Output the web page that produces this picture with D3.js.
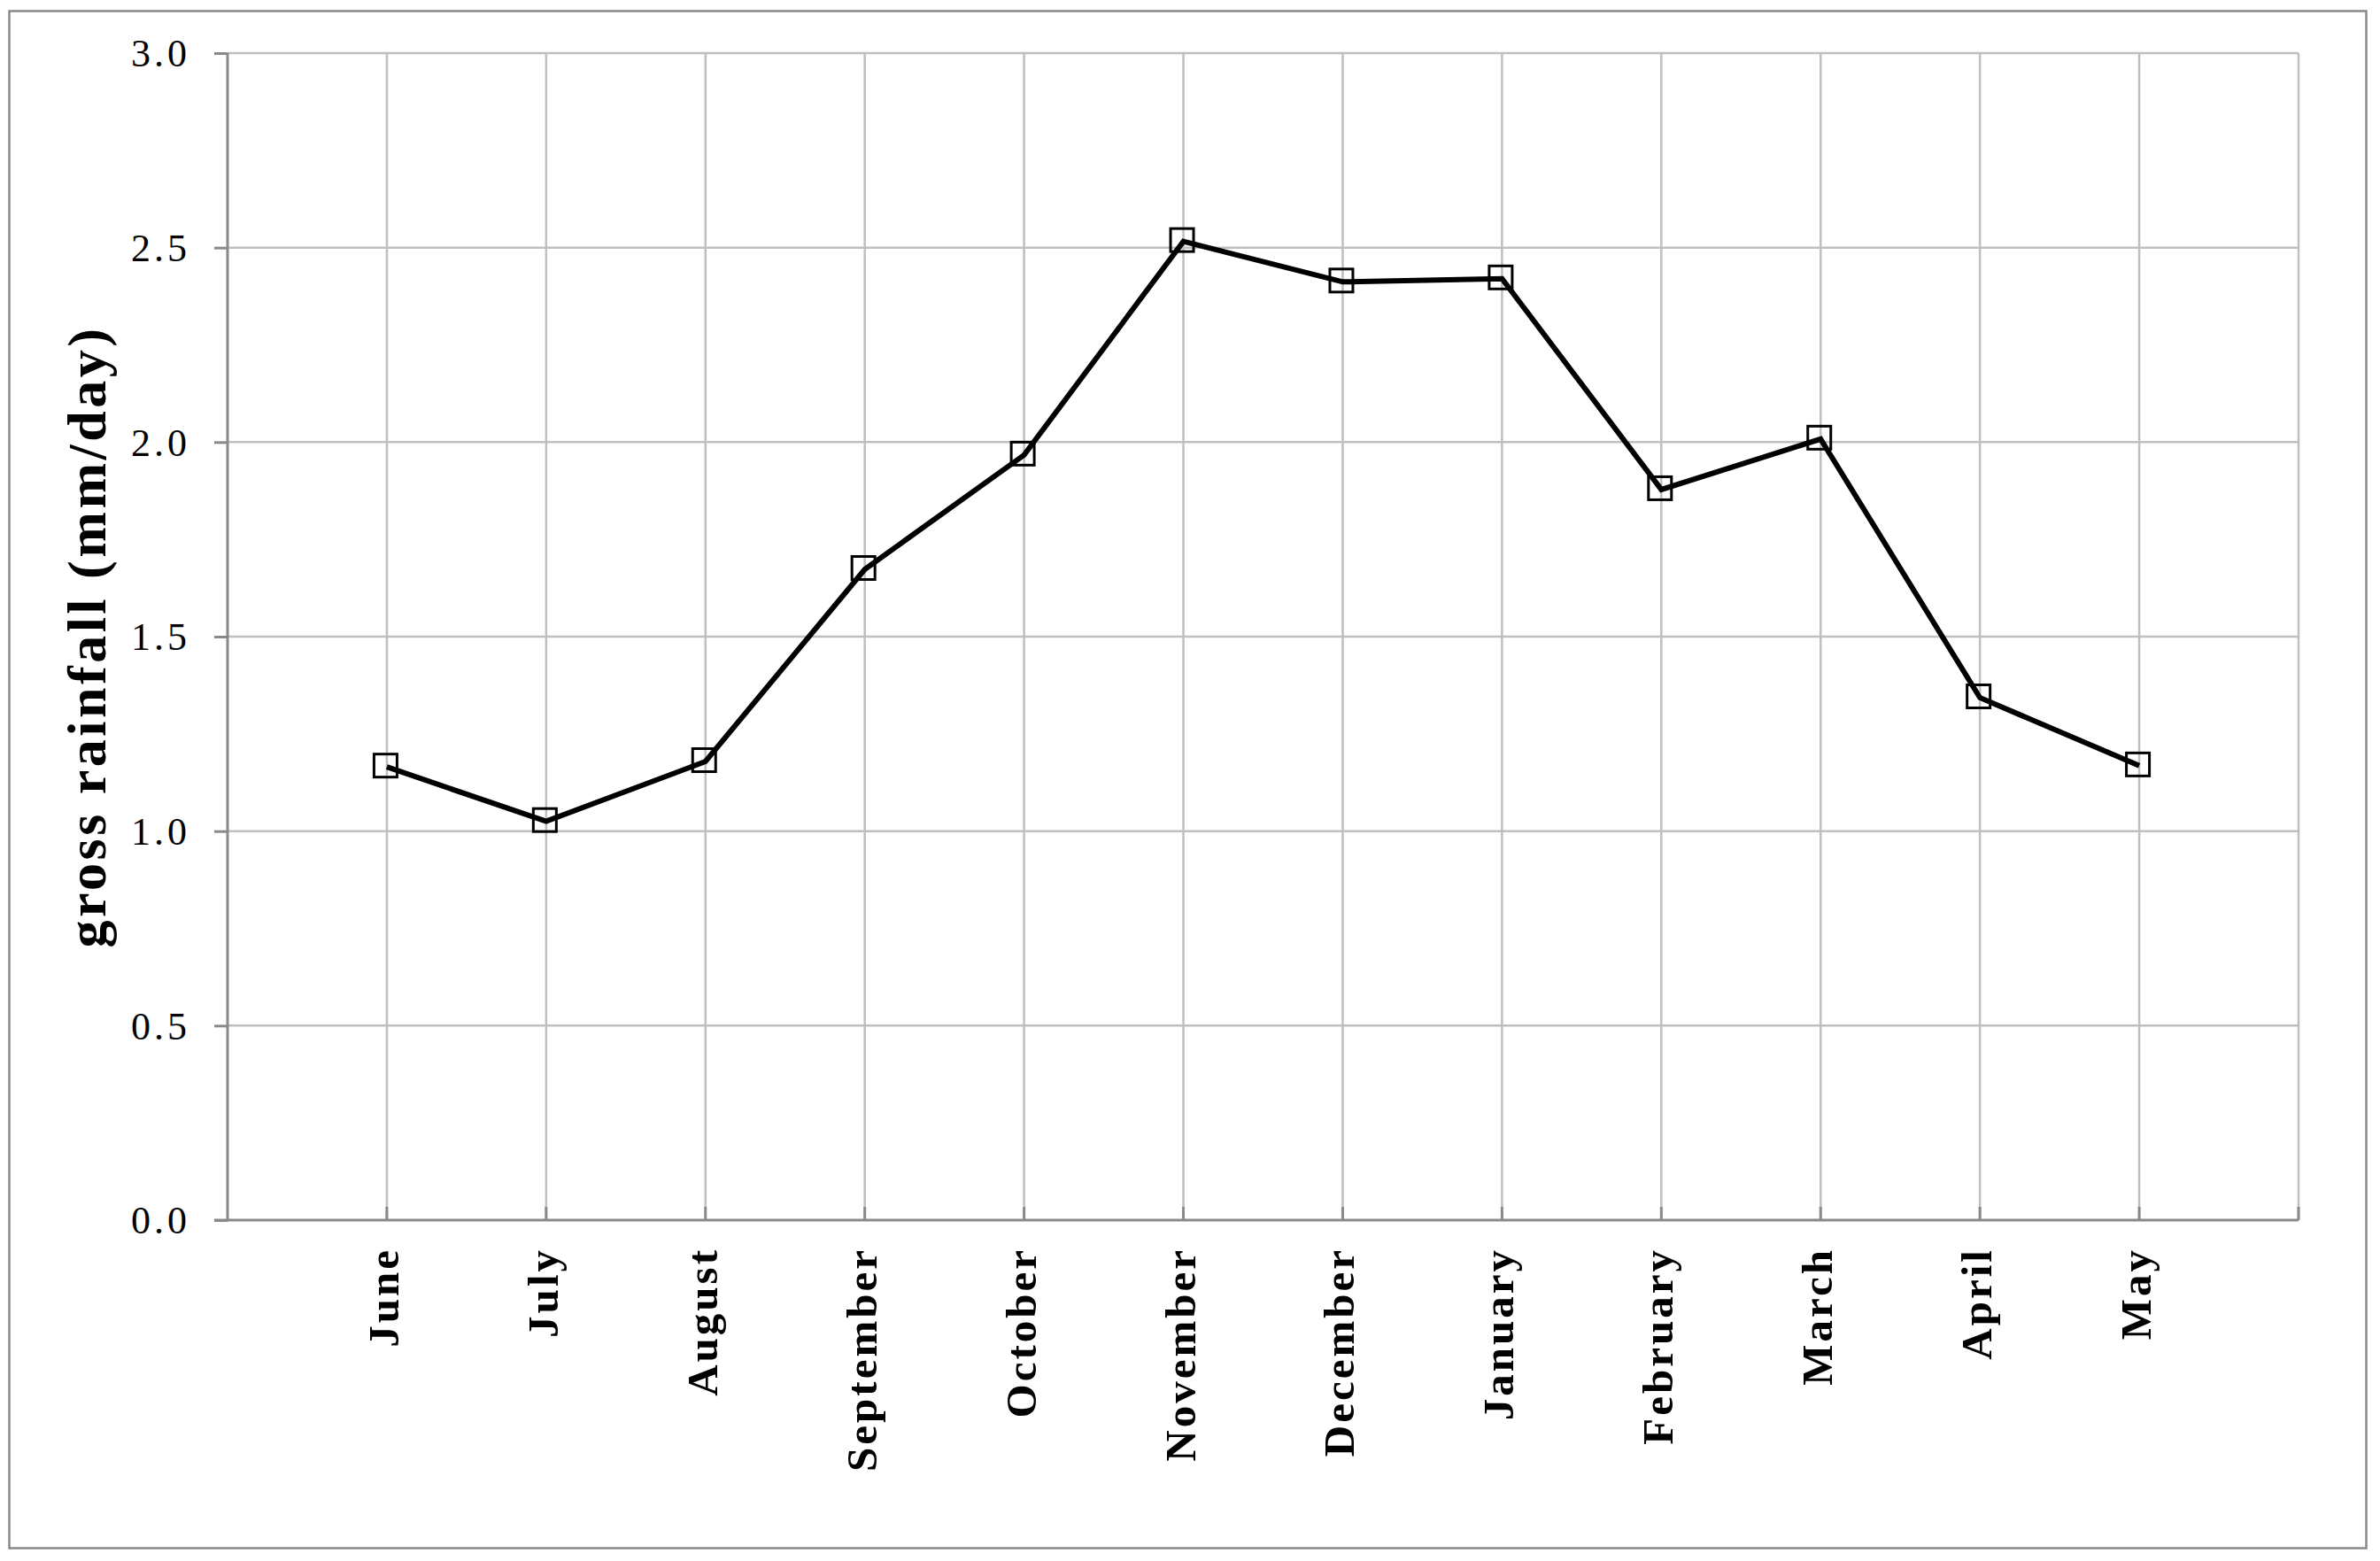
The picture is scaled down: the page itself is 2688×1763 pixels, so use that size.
<!DOCTYPE html>
<html>
<meta name="viewport" content="width=device-width,initial-scale=1" />
<script src="https://d3js.org/d3.v7.min.js"></script>

<body>

    <style>
        body,
        html {
            margin: 0;
            padding: 0;
            width: 100%;
            height: 100%;
            overflow: hidden;
            background: #fff;
        }

        text {
            font-family: "Liberation Serif", "Times New Roman", serif;
            fill: #000;
        }

        .y-tick {
            font-size: 44px;
            letter-spacing: 4px;
        }

        .x-tick {
            font-size: 49px;
            font-weight: bold;
            letter-spacing: 3px;
        }

        .y-title {
            font-size: 62px;
            font-weight: bold;
            letter-spacing: 3.5px;
        }
    </style>

    <svg id="chart"></svg>

    <script>
        // monthly gross rainfall, hydrological year June -> May
        var months = ["June", "July", "August", "September", "October", "November",
            "December", "January", "February", "March", "April", "May"];
        var rainfall = [1.165, 1.025, 1.179, 1.673, 1.967, 2.516, 2.412, 2.42, 1.878, 2.008, 1.343, 1.168];
        var yTicks = [0, 0.5, 1.0, 1.5, 2.0, 2.5, 3.0];
        var yTitle = "gross rainfall (mm/day)";

        var data = months.map(function (m, i) { return { month: m, value: rainfall[i] }; });

        var width = 2688;
        var height = 1763;
        var margins = { top: 60, left: 257, bottom: 385, right: 92 };
        var plotRight = width - margins.right;
        var plotBottom = height - margins.bottom;

        var axisColor = "#898989";
        var gridColor = "#bfbfbf";

        var svg = d3.select("#chart")
            .attr("width", width)
            .attr("height", height);

        // outer chart border
        svg.append("rect")
            .attr("x", 10.5)
            .attr("y", 12.5)
            .attr("width", 2662)
            .attr("height", 1736)
            .attr("fill", "none")
            .attr("stroke", axisColor)
            .attr("stroke-width", 2.5);

        var x = d3.scalePoint()
            .domain(months)
            .range([margins.left, plotRight])
            .padding(1);

        var y = d3.scaleLinear()
            .domain([0, 3])
            .range([plotBottom, margins.top]);

        // horizontal gridlines
        svg.append("g")
            .selectAll("line")
            .data(yTicks.filter(function (d) { return d > 0; }))
            .enter().append("line")
            .attr("x1", margins.left)
            .attr("x2", plotRight)
            .attr("y1", function (d) { return y(d); })
            .attr("y2", function (d) { return y(d); })
            .attr("stroke", gridColor)
            .attr("stroke-width", 2.5);

        // vertical gridlines at months + right edge
        var xGrid = months.map(function (m) { return x(m); }).concat([plotRight]);
        svg.append("g")
            .selectAll("line")
            .data(xGrid)
            .enter().append("line")
            .attr("x1", function (d) { return d; })
            .attr("x2", function (d) { return d; })
            .attr("y1", margins.top)
            .attr("y2", plotBottom)
            .attr("stroke", gridColor)
            .attr("stroke-width", 2.5);

        // y axis
        var yAxis = svg.append("g")
            .attr("transform", `translate(${margins.left}, 0)`)
            .call(d3.axisLeft(y)
                .tickValues(yTicks)
                .tickSize(15)
                .tickPadding(27)
                .tickFormat(d3.format(".1f")));

        yAxis.attr("font-family", null).attr("font-size", null);
        yAxis.select(".domain")
            .attr("d", `M0,${margins.top}V${plotBottom}`)
            .attr("stroke", axisColor)
            .attr("stroke-width", 3);
        yAxis.selectAll(".tick line")
            .attr("stroke", axisColor)
            .attr("stroke-width", 3);
        yAxis.selectAll(".tick text")
            .attr("class", "y-tick")
            .attr("fill", "#000")
            .attr("dy", "0.34em");

        // x axis (ticks point up into the plot)
        var xAxis = svg.append("g")
            .attr("transform", `translate(0, ${plotBottom})`);

        xAxis.append("line")
            .attr("x1", margins.left - 15)
            .attr("x2", plotRight)
            .attr("stroke", axisColor)
            .attr("stroke-width", 3);

        xAxis.selectAll(".x-tickmark")
            .data(xGrid)
            .enter().append("line")
            .attr("class", "x-tickmark")
            .attr("x1", function (d) { return d; })
            .attr("x2", function (d) { return d; })
            .attr("y1", -15)
            .attr("y2", 0)
            .attr("stroke", axisColor)
            .attr("stroke-width", 3);

        xAxis.selectAll(".x-tick")
            .data(months)
            .enter().append("text")
            .attr("class", "x-tick")
            .attr("text-anchor", "end")
            .attr("transform", function (d) { return `translate(${x(d) + 13}, 31) rotate(-90)`; })
            .text(function (d) { return d; });

        // y title
        svg.append("text")
            .attr("class", "y-title")
            .attr("text-anchor", "middle")
            .attr("transform", `translate(119, ${(margins.top + plotBottom) / 2}) rotate(-90)`)
            .text(yTitle);

        // series line
        var line = d3.line()
            .x(function (d) { return x(d.month); })
            .y(function (d) { return y(d.value); });

        svg.append("path")
            .datum(data)
            .attr("d", line)
            .attr("fill", "none")
            .attr("stroke", "#000")
            .attr("stroke-width", 6);

        // square markers
        var size = 26;
        svg.append("g")
            .selectAll("rect")
            .data(data)
            .enter().append("rect")
            .attr("x", function (d) { return x(d.month) - size / 2 - 1.5; })
            .attr("y", function (d) { return y(d.value) - size / 2 - 1.5; })
            .attr("width", size)
            .attr("height", size)
            .attr("fill", "none")
            .attr("stroke", "#000")
            .attr("stroke-width", 3);
    </script>

</body>

</html>
